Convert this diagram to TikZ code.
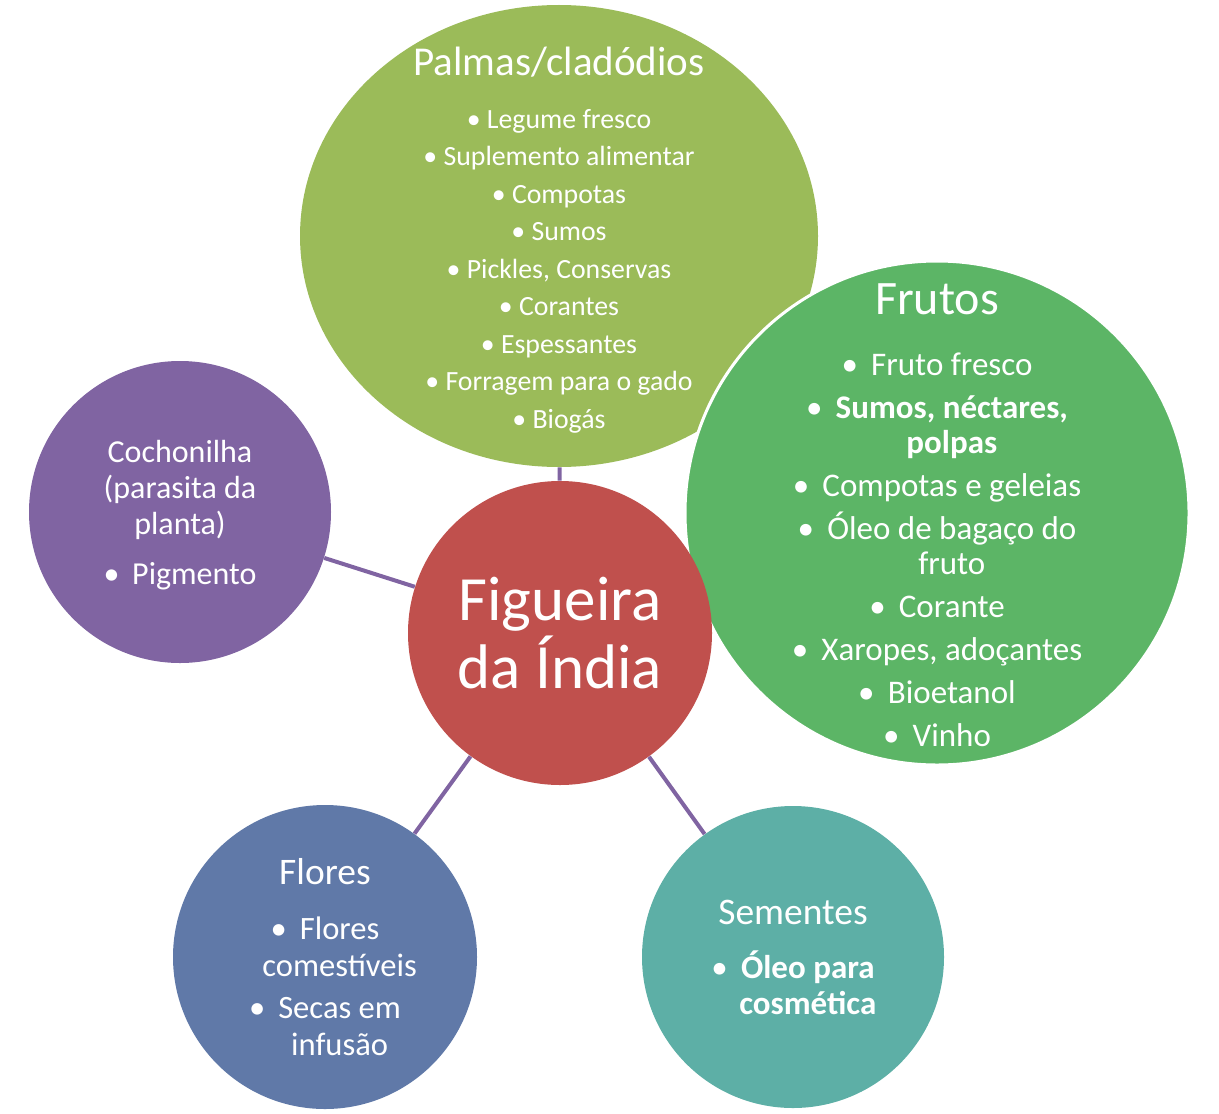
\documentclass[tikz,border=0pt]{standalone}
\usepackage{fontspec}
\setmainfont{Carlito}
\usetikzlibrary{shapes.geometric}
\definecolor{fiPalma}{HTML}{9BBB59}
\definecolor{fiFruto}{HTML}{5CB566}
\definecolor{fiCoch}{HTML}{8064A2}
\definecolor{fiCentre}{HTML}{C0504D}
\definecolor{fiFlor}{HTML}{6079A8}
\definecolor{fiSemente}{HTML}{5DAFA6}
\definecolor{fiLink}{HTML}{8064A2}
\tikzset{
  fi diagram/.style={x=0.5pt, y=-0.5pt, line cap=round},
  fi bubble/.style={circle, inner sep=0pt, draw=none},
  fi text/.style={align=center, text=white, inner sep=0pt},
  fi link/.style={draw=fiLink, line width=2pt, line cap=butt}
}
\newcommand{\fiItem}{\textbullet\hspace{0.4em}}
\newcommand{\fiHang}{\phantom{\textbullet\hspace{0.4em}}}

\begin{document}
\begin{tikzpicture}[fi diagram]
\useasboundingbox (0,0) rectangle (1219,1113);
% bubbles
\node[ellipse, inner sep=0pt, fill=fiPalma, minimum width=259pt, minimum height=231pt] (palmas) at (559,236) {};
\node[fi bubble, fill=fiFruto, draw=white, line width=1.5pt, minimum size=252pt] (frutos) at (937,513) {};
\node[fi bubble, fill=fiCentre, minimum size=152pt] (centre) at (560,633) {};
\node[fi bubble, fill=fiCoch, minimum size=151pt] (cochonilha) at (180,512) {};
\node[fi bubble, fill=fiFlor, minimum size=152pt] (flores) at (325,957) {};
\node[fi bubble, fill=fiSemente, minimum size=151pt] (sementes) at (793,957) {};
% links
\draw[fi link] (palmas) -- (centre);
\draw[fi link] (cochonilha) -- (centre);
\draw[fi link] (flores) -- (centre);
\draw[fi link] (sementes) -- (centre);
% texts
\node[fi text, yshift=-2pt, font=\fontsize{13.9}{18.75}\selectfont] (palmas-txt) at (palmas) {%
  {\fontsize{20.5}{20}\selectfont Palmas/cladódios}\\[7.75pt]
  \textbullet{} Legume fresco\\
  \textbullet{} Suplemento alimentar\\
  \textbullet{} Compotas\\
  \textbullet{} Sumos\\
  \textbullet{} Pickles, Conservas\\
  \textbullet{} Corantes\\
  \textbullet{} Espessantes\\
  \textbullet{} Forragem para o gado\\
  \textbullet{} Biogás};
\node[fi text, yshift=-1pt, font=\fontsize{16.5}{17.5}\selectfont] (frutos-txt) at (frutos) {%
  {\fontsize{24}{24}\selectfont Frutos}\\[13pt]
  \fiItem Fruto fresco\\[4pt]
  \fiItem\textbf{Sumos, néctares,}\\
  \fiHang\textbf{polpas}\\[4pt]
  \fiItem Compotas e geleias\\[4pt]
  \fiItem Óleo de bagaço do\\
  \fiHang fruto\\[4pt]
  \fiItem Corante\\[4pt]
  \fiItem Xaropes, adoçantes\\[4pt]
  \fiItem Bioetanol\\[4pt]
  \fiItem Vinho};
\node[fi text, font=\fontsize{31.5}{34}\selectfont] (centre-txt) at (centre) {Figueira\\da Índia};
\node[fi text, yshift=-1.5pt, font=\fontsize{16}{18}\selectfont] (cochonilha-txt) at (cochonilha) {%
  Cochonilha\\
  (parasita da\\
  planta)\\[7pt]
  \fiItem Pigmento};
\node[fi text, font=\fontsize{16.3}{18.5}\selectfont] (flores-txt) at (flores) {%
  {\fontsize{18.75}{18.75}\selectfont Flores}\\[9pt]
  \fiItem Flores\\
  \fiHang comestíveis\\[2.5pt]
  \fiItem Secas em\\
  \fiHang infusão};
\node[fi text, font=\fontsize{16.5}{18}\selectfont] (sementes-txt) at (sementes) {%
  {\fontsize{18.75}{18.75}\selectfont Sementes}\\[9pt]
  \fiItem\textbf{Óleo para}\\
  \fiHang\textbf{cosmética}};
\end{tikzpicture}
\end{document}
